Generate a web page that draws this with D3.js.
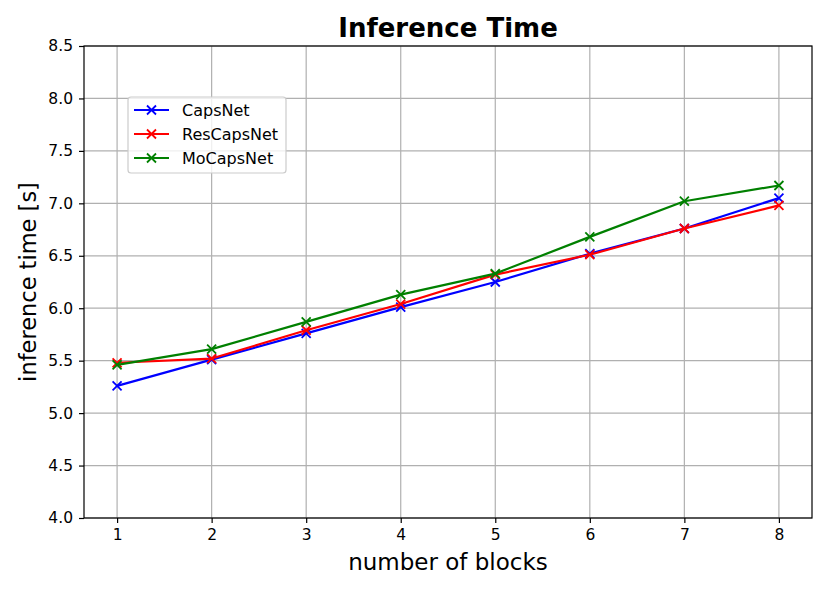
<!DOCTYPE html>
<html><head><meta charset="utf-8">
<script src="https://cdn.jsdelivr.net/npm/d3@7"></script>
<style>body{margin:0;background:#fff}svg{display:block;font-family:"DejaVu Sans",sans-serif}</style>
</head><body><svg id="c" width="830" height="593"></svg>
<script>
const blocks = [1,2,3,4,5,6,7,8];
const capsNet    = [5.26,5.51,5.76,6.01,6.25,6.52,6.76,7.05];
const resCapsNet = [5.48,5.52,5.79,6.04,6.32,6.51,6.76,6.98];
const moCapsNet  = [5.46,5.61,5.87,6.13,6.33,6.68,7.02,7.17];
const seriesNames = ["CapsNet","ResCapsNet","MoCapsNet"];
const seriesColors = ["#0000ff","#ff0000","#008000"];
const yTicks = [4.0,4.5,5.0,5.5,6.0,6.5,7.0,7.5,8.0,8.5];
const xTicks = [1,2,3,4,5,6,7,8];

const svg = d3.select("#c");
const L=84,R=812,T=46,B=518;
const x = d3.scaleLinear().domain([0.65,8.35]).range([L,R]);
const y = d3.scaleLinear().domain([4.0,8.5]).range([B,T]);

// grid
svg.append("g").selectAll("line").data(xTicks).join("line")
  .attr("x1",d=>x(d)).attr("x2",d=>x(d)).attr("y1",T).attr("y2",B)
  .attr("stroke","#b0b0b0").attr("stroke-width",1.2);
svg.append("g").selectAll("line").data(yTicks).join("line")
  .attr("y1",d=>y(d)).attr("y2",d=>y(d)).attr("x1",L).attr("x2",R)
  .attr("stroke","#b0b0b0").attr("stroke-width",1.2);

// axes
const xa = svg.append("g").attr("transform",`translate(0,${B})`)
  .call(d3.axisBottom(x).tickValues(xTicks).tickFormat(d3.format("d")).tickSize(5).tickPadding(6));
const ya = svg.append("g").attr("transform",`translate(${L},0)`)
  .call(d3.axisLeft(y).tickValues(yTicks).tickFormat(d3.format(".1f")).tickSize(5).tickPadding(6));
[xa,ya].forEach(a=>{
  a.select(".domain").remove();
  a.selectAll(".tick line").attr("stroke","#000").attr("stroke-width",1.2);
  a.selectAll("text").attr("font-size",15.5).attr("fill","#000").attr("font-family","DejaVu Sans");
});
svg.append("rect").attr("x",L).attr("y",T).attr("width",R-L).attr("height",B-T)
  .attr("fill","none").attr("stroke","#000").attr("stroke-width",1.2);

// lines
const data = [capsNet,resCapsNet,moCapsNet];
const line = d3.line().x((d,i)=>x(blocks[i])).y(d=>y(d));
data.forEach((vals,k)=>{
  const g = svg.append("g");
  g.append("path").attr("d",line(vals)).attr("fill","none")
    .attr("stroke",seriesColors[k]).attr("stroke-width",2.2).attr("stroke-linejoin","round");
  const s=4.5;
  g.selectAll("path.m").data(vals).join("path").attr("class","m")
    .attr("d",(d,i)=>{const cx=x(blocks[i]),cy=y(d);return `M${cx-s},${cy-s}L${cx+s},${cy+s}M${cx-s},${cy+s}L${cx+s},${cy-s}`;})
    .attr("stroke",seriesColors[k]).attr("stroke-width",1.8).attr("fill","none");
});

// legend
const lg = svg.append("g");
lg.append("rect").attr("x",128).attr("y",97).attr("width",158).attr("height",76).attr("rx",3)
  .attr("fill","#fff").attr("fill-opacity",0.8).attr("stroke","#cccccc").attr("stroke-width",1.2);
seriesNames.forEach((n,k)=>{
  const cy = 110 + k*24;
  lg.append("line").attr("x1",134).attr("x2",169).attr("y1",cy).attr("y2",cy)
    .attr("stroke",seriesColors[k]).attr("stroke-width",2.2);
  const s=4.5,cx=151.5;
  lg.append("path").attr("d",`M${cx-s},${cy-s}L${cx+s},${cy+s}M${cx-s},${cy+s}L${cx+s},${cy-s}`)
    .attr("stroke",seriesColors[k]).attr("stroke-width",1.8);
  lg.append("text").attr("x",182).attr("y",cy).attr("dy","0.36em").attr("font-size",16).text(n);
});

// labels
svg.append("text").attr("x",(L+R)/2).attr("y",37).attr("text-anchor","middle")
  .attr("font-size",26).attr("font-weight","bold").text("Inference Time");
svg.append("text").attr("x",(L+R)/2).attr("y",570).attr("text-anchor","middle")
  .attr("font-size",23).text("number of blocks");
svg.append("text").attr("transform",`translate(36,${(T+B)/2}) rotate(-90)`).attr("text-anchor","middle")
  .attr("font-size",22.5).text("inference time [s]");
</script></body></html>
